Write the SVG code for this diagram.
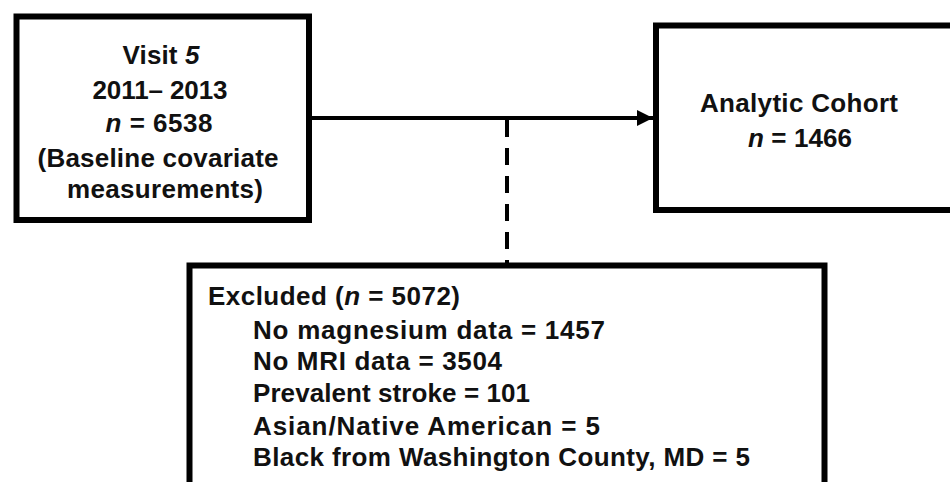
<svg xmlns="http://www.w3.org/2000/svg" width="950" height="482" viewBox="0 0 950 482">
<defs>
<style>
.box{fill:#fff;stroke:#000;stroke-width:6}
.t{font-family:"Liberation Sans",Arial,sans-serif;font-weight:bold;font-size:26px;fill:#111}
.c{text-anchor:middle}
.i{font-style:italic}
.ln{stroke:#000;stroke-width:4;fill:none}
</style>
<marker id="ah" viewBox="0 0 10 10" refX="10" refY="5" markerWidth="4" markerHeight="4" markerUnits="strokeWidth" orient="auto">
<path d="M0,0 L10,5 L0,10 z" fill="#000"/>
</marker>
</defs>
<rect width="950" height="482" fill="#fff"/>
<g id="connectors">
<line class="ln" x1="309" y1="118" x2="653" y2="118" marker-end="url(#ah)"/>
<line class="ln" x1="507" y1="120" x2="507" y2="263" stroke-dasharray="17 11"/>
</g>
<g id="visit5">
<rect class="box" x="16.5" y="16.5" width="292.5" height="203.5"/>
<text class="t c" x="161" y="64" textLength="77">Visit  <tspan class="i">5</tspan></text>
<text class="t c" x="160" y="99" textLength="135">2011– 2013</text>
<text class="t c" x="159" y="132" textLength="107"><tspan class="i">n</tspan> = 6538</text>
<text class="t c" x="158" y="167" textLength="241">(Baseline covariate</text>
<text class="t c" x="165" y="198" textLength="196">measurements)</text>
</g>
<g id="cohort">
<rect class="box" x="656" y="25.5" width="310" height="184.5"/>
<text class="t c" x="799" y="112" textLength="198">Analytic Cohort</text>
<text class="t c" x="800" y="147" textLength="104"><tspan class="i">n</tspan> = 1466</text>
</g>
<g id="excluded">
<rect class="box" x="189.5" y="265.5" width="635" height="230"/>
<text class="t" x="208" y="305" textLength="252">Excluded (<tspan class="i">n</tspan> = 5072)</text>
<text class="t" x="253" y="339" textLength="352">No magnesium data = 1457</text>
<text class="t" x="253" y="370" textLength="249">No MRI data = 3504</text>
<text class="t" x="253" y="402" textLength="277">Prevalent stroke = 101</text>
<text class="t" x="253" y="435" textLength="347">Asian/Native American = 5</text>
<text class="t" x="253" y="466" textLength="497">Black from Washington County, MD = 5</text>
</g>
</svg>
